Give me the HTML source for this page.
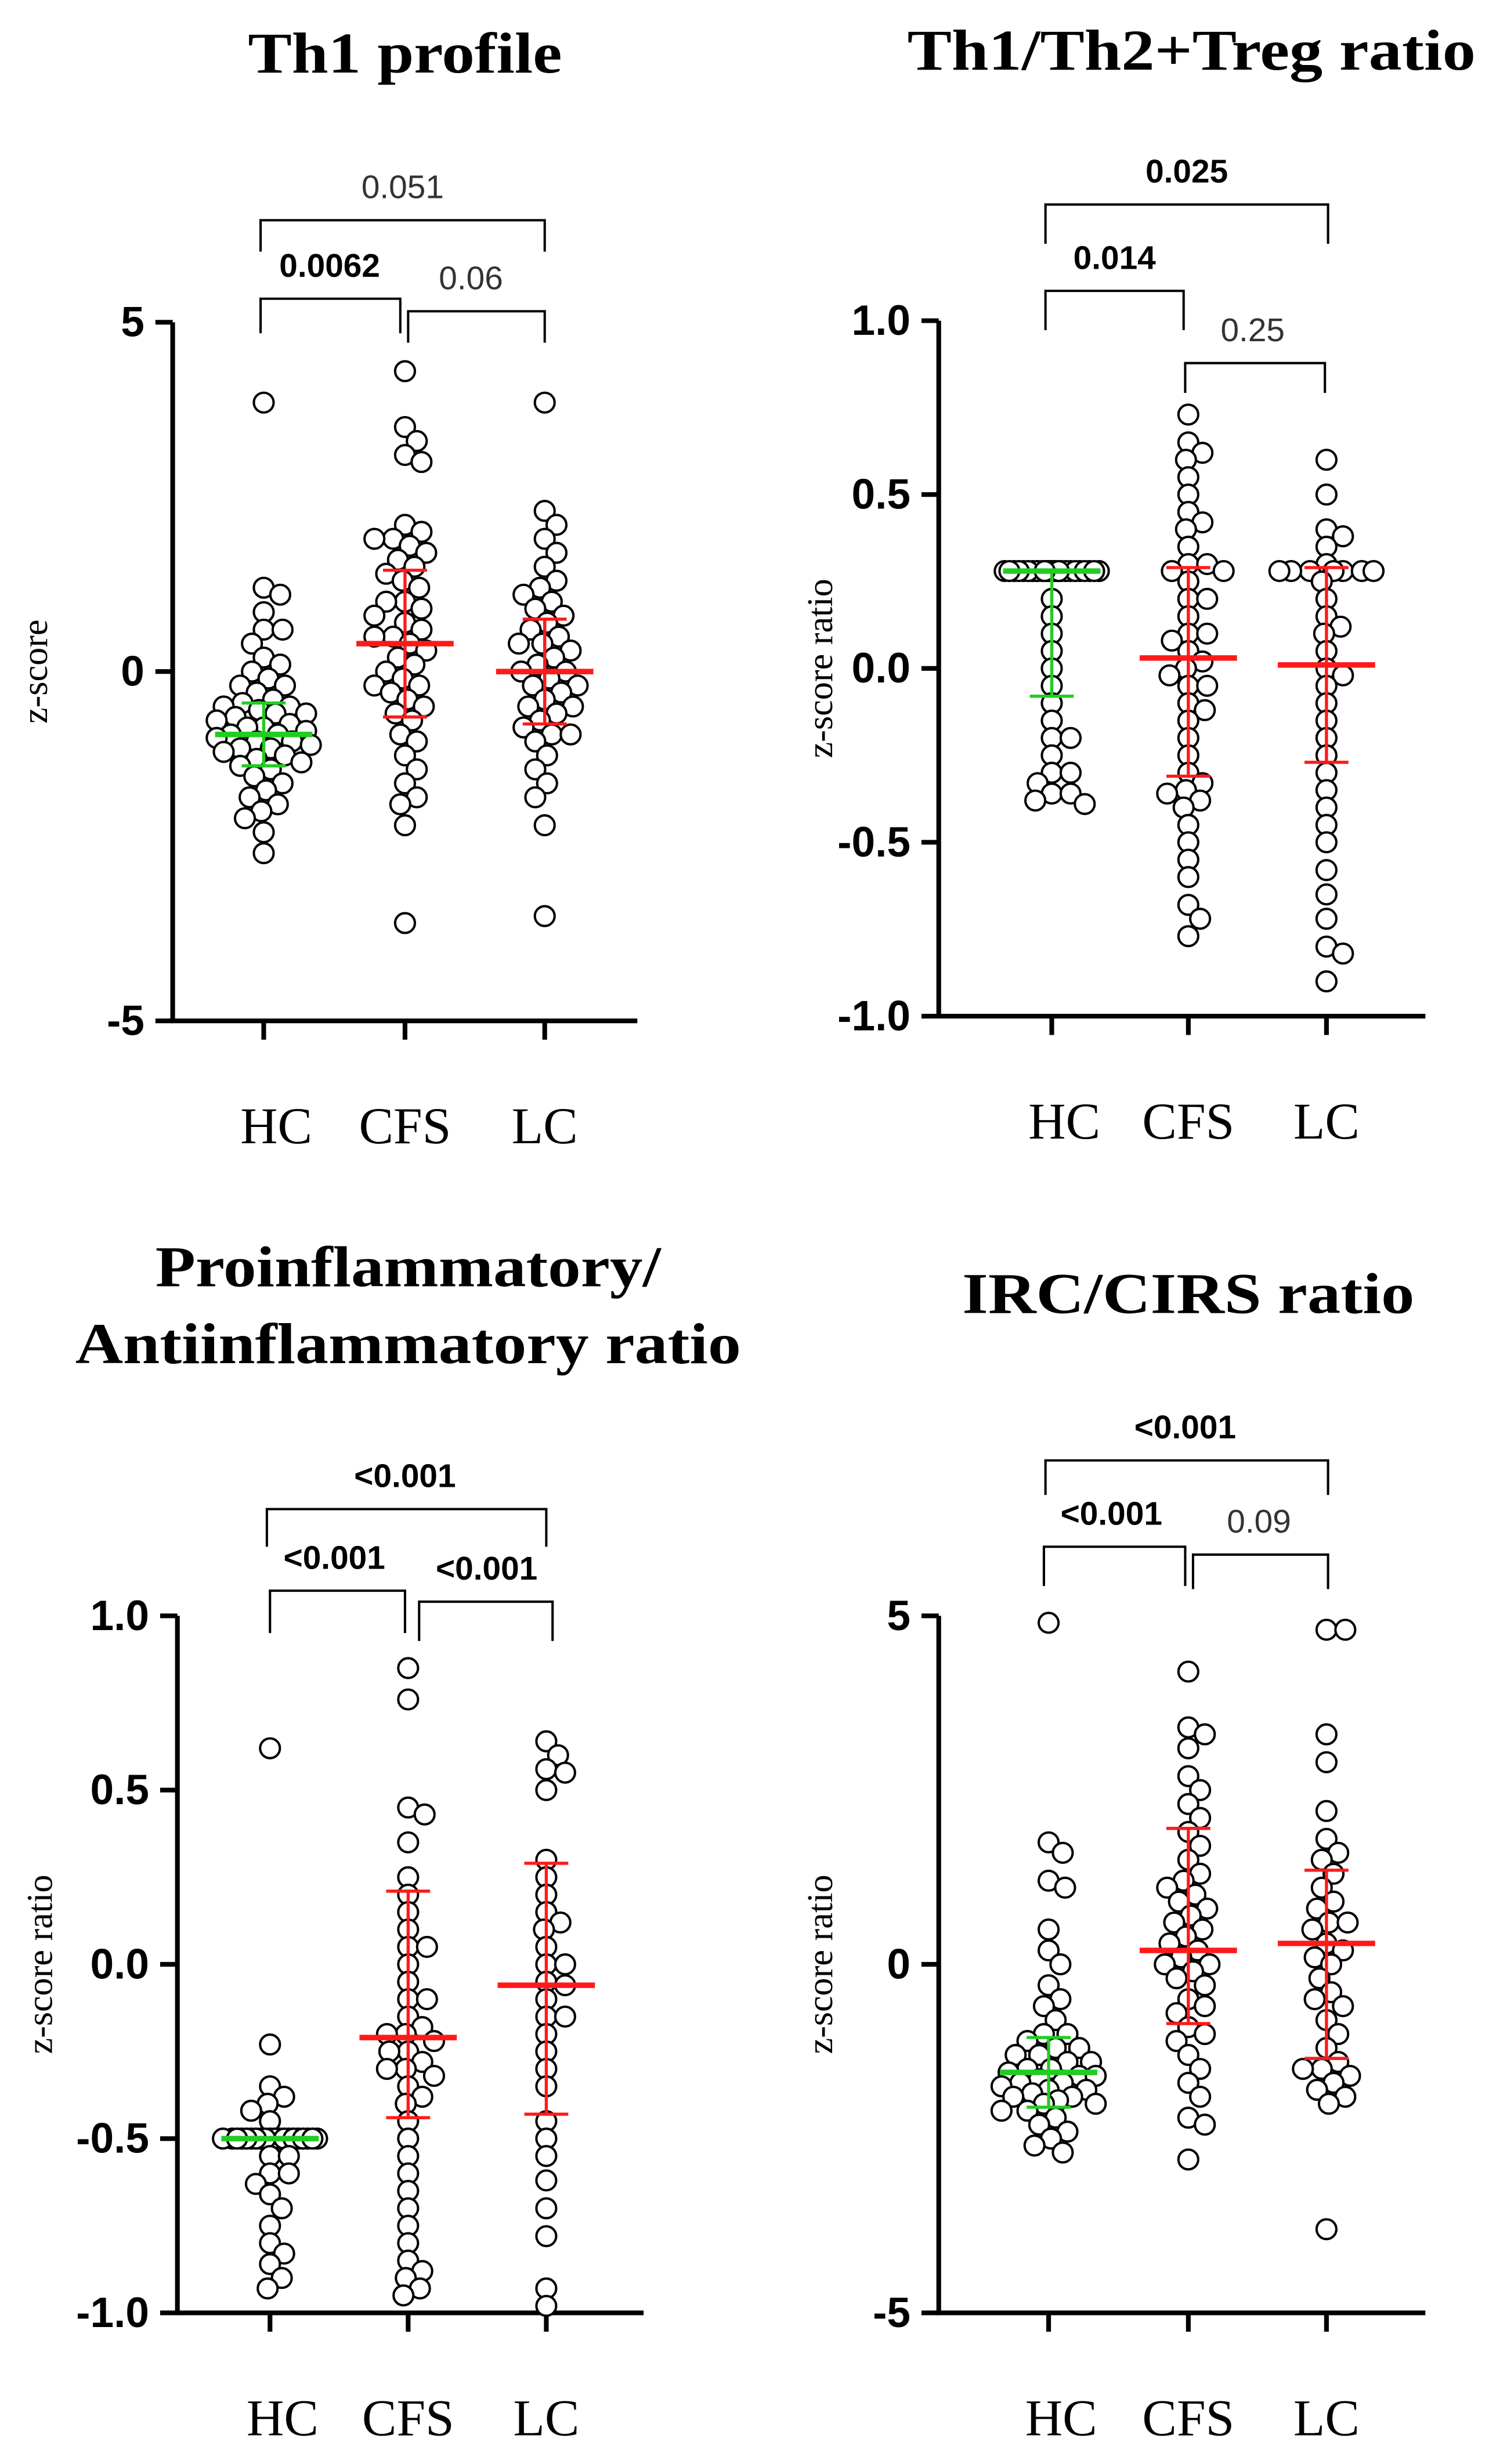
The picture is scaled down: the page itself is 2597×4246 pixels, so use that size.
<!DOCTYPE html>
<html><head><meta charset="utf-8"><style>
html,body{margin:0;padding:0;background:#fff;}
svg{display:block;}
</style></head><body>
<svg id="fig" xmlns="http://www.w3.org/2000/svg" width="2597" height="4246" viewBox="0 0 960 1569"></svg>
<script>
// ---- data ----
const categories = ["HC","CFS","LC"];
const p1HC = [3.85,1.2,1.1,0.85,0.6,0.6,0.4,0.2,0.1,0,-0.1,-0.2,-0.3,-0.4,-0.45,-0.5,-0.55,-0.6,-0.65,-0.7,-0.75,-0.8,-0.85,-0.9,-0.9,-0.95,-1.0,-1.0,-1.05,-1.1,-1.15,-1.2,-1.25,-1.3,-1.35,-1.4,-1.5,-1.6,-1.7,-1.8,-1.9,-2.0,-2.1,-2.3,-2.6,-0.6,-0.8,-1.1,-0.5,-0.2];
const p1CFS = [4.3,3.5,3.3,3.1,3.0,2.1,2.0,1.9,1.9,1.8,1.7,1.6,1.5,1.3,1.2,1.0,0.9,0.8,0.7,0.6,0.5,0.4,0.3,0.2,0.1,0.0,-0.1,-0.2,-0.3,-0.4,-0.5,-0.6,-0.7,-0.9,-1.0,-1.2,-1.4,-1.6,-1.8,-1.9,-2.2,-3.6,0.5,1.0,-0.2,1.4];
const p1LC = [3.85,2.3,2.1,1.9,1.7,1.5,1.3,1.2,1.0,0.9,0.8,0.7,0.5,0.4,0.3,0.2,0.1,0.0,-0.1,-0.2,-0.3,-0.4,-0.5,-0.6,-0.7,-0.8,-0.9,-1.0,-1.2,-1.4,-1.6,-1.8,-2.2,-3.5,0.0,0.4,-0.5,1.1,-0.2,0.6,-0.9];
const p1Mean = [-0.9,0.4,0.0];
const p1SD = [0.45,1.05,0.75];

const p2HC = [0.28,0.28,0.28,0.28,0.28,0.28,0.28,0.28,0.28,0.28,0.28,0.28,0.28,0.28,0.28,0.28,0.28,0.28,0.28,0.28,0.28,0.28,0.28,0.28,0.28,0.2,0.15,0.1,0.05,0.0,-0.05,-0.1,-0.15,-0.2,-0.25,-0.3,-0.33,-0.36,-0.38,-0.39,-0.36,-0.3,-0.2];
const p2CFS = [0.73,0.65,0.62,0.6,0.55,0.5,0.45,0.42,0.4,0.35,0.3,0.28,0.25,0.2,0.15,0.1,0.08,0.05,0.02,0.0,-0.02,-0.05,-0.1,-0.12,-0.15,-0.2,-0.25,-0.3,-0.33,-0.36,-0.38,-0.4,-0.45,-0.5,-0.55,-0.6,-0.68,-0.72,-0.77,0.3,0.28,0.1,-0.05,0.2,-0.35];
const p2LC = [0.6,0.5,0.4,0.38,0.35,0.3,0.28,0.28,0.28,0.28,0.28,0.25,0.2,0.15,0.1,0.05,0.0,-0.05,-0.1,-0.15,-0.2,-0.3,-0.35,-0.4,-0.45,-0.5,-0.58,-0.65,-0.72,-0.8,-0.82,-0.9,0.28,0.28,0.12,-0.02,-0.25];
const p2Mean = [0.28,0.03,0.01];
const p2Lo = [-0.08,-0.31,-0.27];
const p2Hi = [0.28,0.29,0.29];

const p3HC = [0.62,-0.23,-0.35,-0.38,-0.4,-0.42,-0.45,-0.5,-0.5,-0.5,-0.5,-0.5,-0.5,-0.5,-0.5,-0.5,-0.5,-0.5,-0.5,-0.5,-0.5,-0.5,-0.5,-0.5,-0.5,-0.5,-0.5,-0.55,-0.6,-0.63,-0.66,-0.7,-0.75,-0.8,-0.83,-0.86,-0.9,-0.93,-0.55,-0.6];
const p3CFS = [0.85,0.76,0.45,0.43,0.35,0.25,0.2,0.15,0.1,0.05,0.0,-0.05,-0.1,-0.15,-0.18,-0.2,-0.22,-0.25,-0.28,-0.3,-0.32,-0.35,-0.38,-0.4,-0.45,-0.5,-0.55,-0.6,-0.65,-0.7,-0.75,-0.8,-0.85,-0.88,-0.9,-0.93,-0.95,-0.2,-0.1,-0.3,0.05,-0.25];
const p3LC = [0.64,0.6,0.56,0.55,0.5,0.3,0.25,0.2,0.15,0.1,0.05,0.0,-0.05,-0.1,-0.15,-0.2,-0.25,-0.3,-0.35,-0.45,-0.5,-0.55,-0.62,-0.7,-0.78,-0.93,-0.98,-0.06,0.12,-0.15,0.0];
const p3Mean = [-0.5,-0.21,-0.06];
const p3Lo = [-0.5,-0.44,-0.43];
const p3Hi = [-0.5,0.21,0.29];

const p4HC = [4.9,1.75,1.6,1.2,1.1,0.5,0.2,0.0,-0.3,-0.5,-0.6,-0.8,-1.0,-1.1,-1.2,-1.3,-1.4,-1.5,-1.5,-1.6,-1.6,-1.7,-1.7,-1.8,-1.8,-1.9,-1.9,-2.0,-2.0,-2.1,-2.1,-2.2,-2.3,-2.4,-2.5,-2.6,-2.7,-1.3,-1.4,-1.55,-1.65,-1.75,-1.85,-1.95,-1.2,-1.0];
const p4CFS = [4.2,3.4,3.3,3.1,2.7,2.5,2.3,2.1,1.9,1.7,1.5,1.3,1.1,1.0,0.8,0.6,0.5,0.3,0.2,0.1,0.0,-0.1,-0.3,-0.5,-0.7,-0.9,-1.1,-1.3,-1.5,-1.7,-1.9,-2.2,-2.3,-2.8,0.4,0.7,-0.2,1.2,0.0,-0.6,0.9,-1.0];
const p4LC = [4.8,4.8,3.3,2.9,2.2,1.8,1.6,1.5,1.3,1.1,0.9,0.8,0.6,0.5,0.3,0.2,0.0,-0.2,-0.4,-0.6,-0.8,-1.0,-1.2,-1.4,-1.5,-1.6,-1.7,-1.8,-1.9,-2.0,-3.8,0.6,0.1,-1.5,-0.5];
const p4Mean = [-1.55,0.2,0.3];
const p4Lo = [-2.05,-0.85,-1.35];
const p4Hi = [-1.05,1.95,1.35];

const p1Ticks = ["5","0","-5"];
const p2Ticks = ["1.0","0.5","0.0","-0.5","-1.0"];
const p3Ticks = ["1.0","0.5","0.0","-0.5","-1.0"];
const p4Ticks = ["5","0","-5"];

const p1Brackets = ["0.0062","0.06","0.051"];
const p2Brackets = ["0.014","0.25","0.025"];
const p3Brackets = ["<0.001","<0.001","<0.001"];
const p4Brackets = ["<0.001","0.09","<0.001"];

// ---- drawing ----
const NS="http://www.w3.org/2000/svg";
const svg=document.getElementById('fig');
function mk(tag,attrs,parent){const e=document.createElementNS(NS,tag);for(const k in attrs)e.setAttribute(k,attrs[k]);(parent||svg).appendChild(e);return e;}
function txt(s,attrs,parent){const e=mk('text',attrs,parent);e.textContent=s;return e;}
const SANS='"Liberation Sans", Arial, sans-serif', SERIF='"Liberation Serif", "Times New Roman", serif';

function panel(cfg){
  const g=mk('g',{});
  
  
  const yScale=v=>cfg.yTop+(cfg.vMax-v)/(cfg.vMax-cfg.vMin)*(cfg.yBot-cfg.yTop);
  cfg.title.forEach((t,i)=>{
    const e=txt(t,{x:cfg.titleX,y:cfg.titleY+i*49,'text-anchor':'middle','font-family':SERIF,'font-weight':'bold','font-size':37,textLength:cfg.titleW[i],lengthAdjust:'spacingAndGlyphs'},g);
    
    
  });
  const ya=mk('line',{x1:cfg.ax,y1:cfg.yTop,x2:cfg.ax,y2:cfg.yBot,stroke:'#000','stroke-width':3},g);
  
  
  const xa=mk('line',{x1:cfg.ax-1.5,y1:cfg.yBot,x2:cfg.axEnd,y2:cfg.yBot,stroke:'#000','stroke-width':3},g);
  
  
  const n=cfg.ticks.length;
  cfg.ticks.forEach((t,i)=>{
    const v=cfg.vMax-i*(cfg.vMax-cfg.vMin)/(n-1);
    const y=yScale(v);
    mk('line',{x1:cfg.ax-11,y1:y,x2:cfg.ax,y2:y,stroke:'#000','stroke-width':3},g);
    const e=txt(t,{x:cfg.ax-18,y:y+9,'text-anchor':'end','font-family':SANS,'font-weight':'bold','font-size':27},g);
    
    
  });
  const yt=txt(cfg.yTitle,{x:0,y:0,transform:`translate(${cfg.yTitleX},${(cfg.yTop+cfg.yBot)/2}) rotate(-90)`,'text-anchor':'middle','font-family':SERIF,'font-size':23},g);
  
  
  categories.forEach((c,i)=>{
    const x=cfg.cx[i];
    mk('line',{x1:x,y1:cfg.yBot,x2:x,y2:cfg.yBot+12,stroke:'#000','stroke-width':3},g);
    const e=txt(c,{x:x+(i==0?8:0),y:cfg.yBot+78,'text-anchor':'middle','font-family':SERIF,'font-size':33},g);
    
    
  });
  // points (bounded beeswarm)
  const R=6.3, D=13, MAXW=30;
  cfg.groups.forEach((vals,gi)=>{
    const sorted=vals.slice().sort((a,b)=>b-a);
    const placed=[];
    sorted.forEach(v=>{
      const y=yScale(v);
      let best=0,bestD=-1;
      for(let k=0;k<=40;k++){
        const off=(k%2?1:-1)*Math.ceil(k/2)*1.5;
        if(Math.abs(off)>MAXW) break;
        let md=1e9;
        placed.forEach(p=>{const d=Math.hypot(p.x-off,p.y-y);if(d<md)md=d;});
        if(md>=D*0.85){best=off;bestD=md;break;}
        if(md>bestD+0.01){bestD=md;best=off;}
      }
      placed.push({x:best,y:y});
      const c=mk('circle',{cx:cfg.cx[gi]+best,cy:y,r:R,fill:'#fff',stroke:'#000','stroke-width':1.5},g);
      
      
    });
  });
  categories.forEach((c,i)=>{
    const col=i==0?'#22cc22':'#ff1a1a';
    const x=cfg.cx[i];
    const yl=yScale(cfg.lo[i]), yh=yScale(cfg.hi[i]), ym=yScale(cfg.mean[i]);
    const s=mk('line',{x1:x,y1:yl,x2:x,y2:yh,stroke:col,'stroke-width':2},g);
    
    
    mk('line',{x1:x-14,y1:yl,x2:x+14,y2:yl,stroke:col,'stroke-width':2},g);
    mk('line',{x1:x-14,y1:yh,x2:x+14,y2:yh,stroke:col,'stroke-width':2},g);
    const m=mk('line',{x1:x-31,y1:ym,x2:x+31,y2:ym,stroke:col,'stroke-width':3.5},g);
    
    
  });
  cfg.br.forEach((b,i)=>{
    const p=mk('path',{d:`M${b.x1},${b.bot}V${b.top}H${b.x2}V${b.bot}`,fill:'none',stroke:'#000','stroke-width':1.5},g);
    
    
    const bold=b.bold;
    const e=txt(cfg.brLabels[i],{x:(b.lx!==undefined?b.lx:(b.x1+b.x2)/2),y:b.top-14,'text-anchor':'middle','font-family':SANS,'font-size':21,'font-weight':bold?'bold':'normal',fill:bold?'#000':'#333'},g);
    
    
  });
}

panel({name:'th1-profile-panel',title:['Th1 profile'],titleW:[200],titleX:258,titleY:46,ax:110,axEnd:406,yTop:205,yBot:650,vMax:5,vMin:-5,
  ticks:p1Ticks,yTitle:'z-score',yTitleX:30,cx:[168,258,347],groups:[p1HC,p1CFS,p1LC],
  mean:p1Mean,lo:p1Mean.map((m,i)=>m-p1SD[i]),hi:p1Mean.map((m,i)=>m+p1SD[i]),
  brLabels:p1Brackets,br:[{x1:166,x2:255,top:190,bot:212,bold:true,lx:210},{x1:260,x2:347,top:198,bot:218,bold:false,lx:300},{x1:166,x2:347,top:140,bot:160,bold:false}]});

panel({name:'th1-th2-treg-panel',title:['Th1/Th2+Treg ratio'],titleW:[362],titleX:759,titleY:44,ax:598,axEnd:908,yTop:204,yBot:647,vMax:1,vMin:-1,
  ticks:p2Ticks,yTitle:'z-score ratio',yTitleX:530,cx:[670,757,845],groups:[p2HC,p2CFS,p2LC],
  mean:p2Mean,lo:p2Lo,hi:p2Hi,
  brLabels:p2Brackets,br:[{x1:666,x2:754,top:185,bot:210,bold:true,lx:710},{x1:755,x2:844,top:231,bot:250,bold:false,lx:798},{x1:666,x2:846,top:130,bot:155,bold:true}]});

panel({name:'pro-anti-inflammatory-panel',title:['Proinflammatory/','Antiinflammatory ratio'],titleW:[322,424],titleX:260,titleY:819,ax:113,axEnd:410,yTop:1029,yBot:1473,vMax:1,vMin:-1,
  ticks:p3Ticks,yTitle:'z-score ratio',yTitleX:33,cx:[172,260,348],groups:[p3HC,p3CFS,p3LC],
  mean:p3Mean,lo:p3Lo,hi:p3Hi,
  brLabels:p3Brackets,br:[{x1:172,x2:258,top:1013,bot:1040,bold:true,lx:213},{x1:267,x2:352,top:1020,bot:1045,bold:true,lx:310},{x1:170,x2:348,top:961,bot:985,bold:true,lx:258}]});

panel({name:'irc-cirs-panel',title:['IRC/CIRS ratio'],titleW:[288],titleX:757,titleY:836,ax:598,axEnd:908,yTop:1029,yBot:1473,vMax:5,vMin:-5,
  ticks:p4Ticks,yTitle:'z-score ratio',yTitleX:530,cx:[668,757,845],groups:[p4HC,p4CFS,p4LC],
  mean:p4Mean,lo:p4Lo,hi:p4Hi,
  brLabels:p4Brackets,br:[{x1:665,x2:755,top:985,bot:1010,bold:true,lx:708},{x1:760,x2:846,top:990,bot:1012,bold:false,lx:802},{x1:666,x2:846,top:930,bot:952,bold:true,lx:755}]});
</script>
</body></html>
